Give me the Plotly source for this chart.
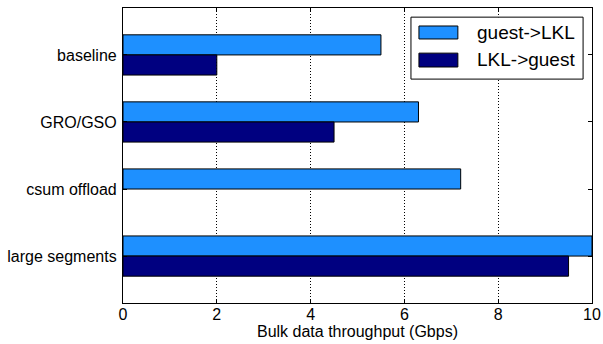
import plotly.graph_objects as go

categories = ["baseline", "GRO/GSO", "csum offload", "large segments"]
guest_to_lkl = [5.5, 6.3, 7.2, 10.0]
lkl_to_guest = [2.0, 4.5, None, 9.5]
x_ticks = [0, 2, 4, 6, 8, 10]

pos = list(range(len(categories)))
FONT = "Liberation Sans, Arial, sans-serif"

fig = go.Figure()
fig.add_trace(go.Bar(
    y=pos, x=guest_to_lkl, orientation="h", name="guest->LKL",
    width=0.3, offset=-0.3,
    marker=dict(color="#1E90FF", line=dict(color="black", width=1)),
    showlegend=False,
))
fig.add_trace(go.Bar(
    y=pos, x=lkl_to_guest, orientation="h", name="LKL->guest",
    width=0.3, offset=0.0,
    marker=dict(color="#000080", line=dict(color="black", width=1)),
    showlegend=False,
))

# legend drawn as shapes + text (matplotlib-style wide patches)
shapes = [
    dict(type="rect", xref="paper", yref="paper", x0=0.614, x1=0.981, y0=0.759, y1=0.969,
         line=dict(color="black", width=1), fillcolor="white", layer="above"),
    dict(type="rect", xref="paper", yref="paper", x0=0.631, x1=0.714, y0=0.895, y1=0.939,
         line=dict(color="black", width=1), fillcolor="#1E90FF", layer="above"),
    dict(type="rect", xref="paper", yref="paper", x0=0.631, x1=0.714, y0=0.800, y1=0.847,
         line=dict(color="black", width=1), fillcolor="#000080", layer="above"),
]
annotations = [
    dict(xref="paper", yref="paper", x=0.750, y=0.917, text="guest->LKL", showarrow=False,
         xanchor="left", yanchor="middle", font=dict(family=FONT, size=19, color="black")),
    dict(xref="paper", yref="paper", x=0.750, y=0.824, text="LKL->guest", showarrow=False,
         xanchor="left", yanchor="middle", font=dict(family=FONT, size=19, color="black")),
]

fig.update_layout(
    width=603, height=344,
    margin=dict(l=123, r=11, t=8, b=41),
    paper_bgcolor="white", plot_bgcolor="white",
    barmode="overlay",
    font=dict(family=FONT, size=16, color="black"),
    shapes=shapes, annotations=annotations,
    xaxis=dict(
        range=[0, 10], tickvals=x_ticks, ticktext=[str(t) for t in x_ticks],
        showgrid=True, gridcolor="black", griddash="1px,2px", gridwidth=1,
        showline=True, linecolor="black", linewidth=1.2, mirror="ticks",
        ticks="inside", ticklen=4, tickcolor="black", zeroline=False,
        automargin=False, ticklabelstandoff=-3,
        title=dict(text="Bulk data throughput (Gbps)", standoff=2,
                   font=dict(family=FONT, size=16)),
        tickfont=dict(family=FONT, size=16),
    ),
    yaxis=dict(
        range=[3.7, -0.7], tickvals=pos, ticktext=categories,
        showgrid=False, zeroline=False, automargin=False,
        showline=True, linecolor="black", linewidth=1.2, mirror="ticks",
        ticks="inside", ticklen=4, tickcolor="black",
        tickfont=dict(family=FONT, size=16), ticklabelstandoff=2,
    ),
)

fig.write_html("out.html", config={"displayModeBar": False},
               post_script="document.body.style.margin='0';document.body.style.overflow='hidden';")
